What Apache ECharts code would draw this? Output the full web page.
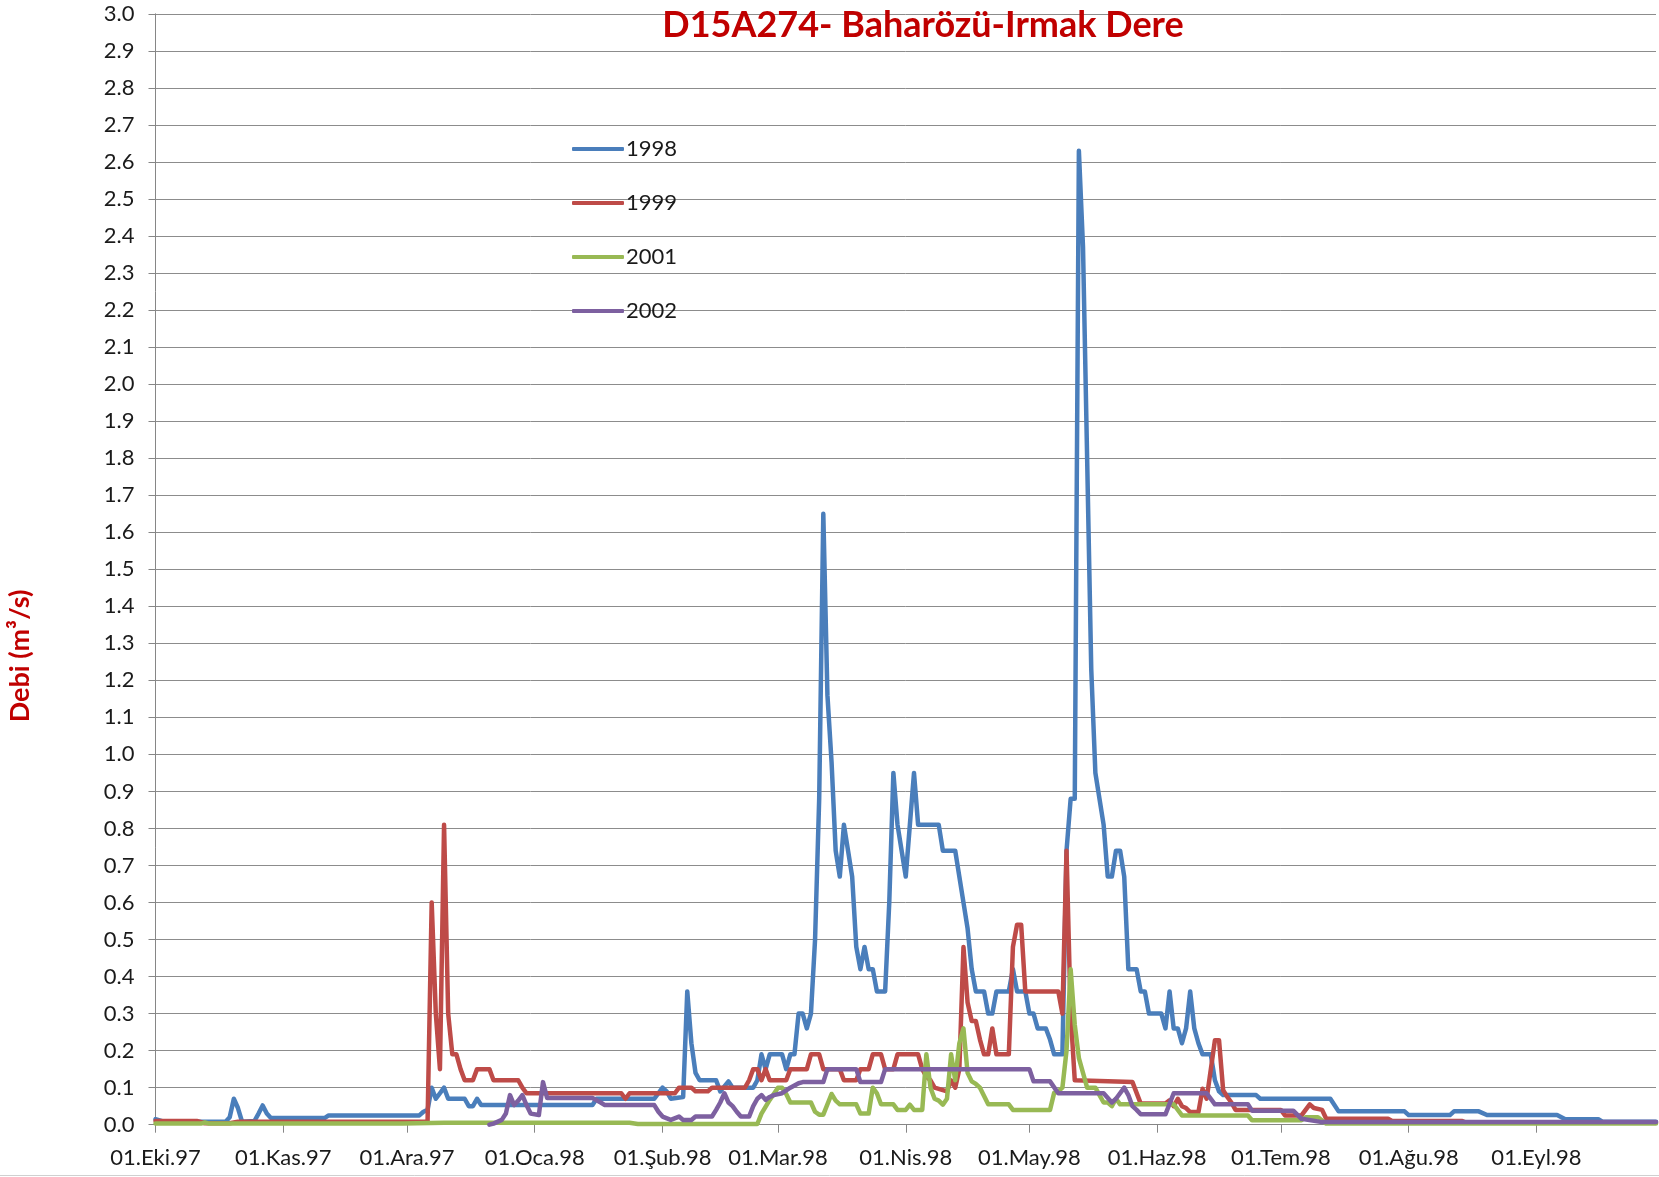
<!DOCTYPE html>
<html>
<head>
<meta charset="utf-8">
<title>D15A274- Baharözü-Irmak Dere</title>
<script src="https://cdn.jsdelivr.net/npm/echarts@6.0.0/dist/echarts.min.js"></script>
<style>
  html, body { margin: 0; padding: 0; background: #fff; }
  #chart { width: 1659px; height: 1177px; }
</style>
</head>
<body>
<div id="chart"></div>
<script>
// x = gün (0 = 01.Eki.97), y = debi (m3/s)
const monthStarts = [0, 31, 61, 92, 123, 151, 182, 212, 243, 273, 304, 335];
const monthLabels = ['01.Eki.97', '01.Kas.97', '01.Ara.97', '01.Oca.98', '01.Şub.98', '01.Mar.98',
  '01.Nis.98', '01.May.98', '01.Haz.98', '01.Tem.98', '01.Ağu.98', '01.Eyl.98'];
const seriesNames = ['1998', '1999', '2001', '2002'];

const q1998 = [
  [0, 0.015], [2, 0.008], [17, 0.008], [18, 0.02], [19, 0.07], [20, 0.045], [21, 0.008], [24, 0.01],
  [25, 0.03], [26, 0.052], [27, 0.03], [28, 0.018], [41, 0.018], [42, 0.025], [64, 0.025], [65, 0.035],
  [66, 0.04], [67, 0.1], [68, 0.07], [69, 0.085], [70, 0.1], [71, 0.07], [75, 0.07], [76, 0.05],
  [77, 0.05], [78, 0.07], [79, 0.053], [106, 0.053], [107, 0.07], [121, 0.07], [122, 0.085], [123, 0.1],
  [124, 0.09], [125, 0.07], [128, 0.075], [129, 0.36], [130, 0.22], [131, 0.14], [132, 0.12], [136, 0.12],
  [137, 0.09], [139, 0.117], [140, 0.1], [145, 0.1], [146, 0.12], [147, 0.19], [148, 0.15], [149, 0.19],
  [152, 0.19], [153, 0.15], [154, 0.19], [155, 0.19], [156, 0.3], [157, 0.3], [158, 0.26], [159, 0.3],
  [160, 0.5], [161, 0.88], [162, 1.65], [163, 1.16], [164, 0.98], [165, 0.74], [166, 0.67], [167, 0.81],
  [168, 0.74], [169, 0.67], [170, 0.48], [171, 0.42], [172, 0.48], [173, 0.42], [174, 0.42], [175, 0.36],
  [177, 0.36], [178, 0.6], [179, 0.95], [180, 0.81], [181, 0.74], [182, 0.67], [183, 0.81], [184, 0.95],
  [185, 0.81], [190, 0.81], [191, 0.74], [194, 0.74], [195, 0.67], [196, 0.6], [197, 0.53], [198, 0.42],
  [199, 0.36], [201, 0.36], [202, 0.3], [203, 0.3], [204, 0.36], [207, 0.36], [208, 0.42], [209, 0.36],
  [211, 0.36], [212, 0.3], [213, 0.3], [214, 0.26], [216, 0.26], [217, 0.23], [218, 0.19], [220, 0.19],
  [221, 0.74], [222, 0.88], [223, 0.88], [224, 2.63], [225, 2.37], [226, 1.8], [227, 1.23], [228, 0.95],
  [229, 0.88], [230, 0.81], [231, 0.67], [232, 0.67], [233, 0.74], [234, 0.74], [235, 0.67], [236, 0.42],
  [238, 0.42], [239, 0.36], [240, 0.36], [241, 0.3], [244, 0.3], [245, 0.26], [246, 0.36], [247, 0.26],
  [248, 0.26], [249, 0.22], [250, 0.26], [251, 0.36], [252, 0.26], [253, 0.22], [254, 0.19], [256, 0.19],
  [257, 0.12], [258, 0.09], [259, 0.08], [267, 0.08], [268, 0.07], [285, 0.07], [287, 0.036], [303, 0.036],
  [304, 0.026], [314, 0.026], [315, 0.036], [321, 0.036], [323, 0.026], [340, 0.026], [342, 0.015],
  [350, 0.015], [351, 0.008], [364, 0.008]
];

const q1999 = [
  [0, 0.01], [10, 0.01], [12, 0.004], [18, 0.004], [20, 0.008], [66, 0.008], [67, 0.6], [68, 0.3],
  [69, 0.15], [70, 0.81], [71, 0.3], [72, 0.19], [73, 0.19], [74, 0.15], [75, 0.12], [77, 0.12],
  [78, 0.15], [81, 0.15], [82, 0.12], [88, 0.12], [89, 0.1], [90, 0.085], [113, 0.085], [114, 0.07],
  [115, 0.085], [126, 0.085], [127, 0.1], [130, 0.1], [131, 0.09], [134, 0.09], [135, 0.1], [143, 0.1],
  [144, 0.12], [145, 0.15], [146, 0.15], [147, 0.12], [148, 0.15], [149, 0.12], [153, 0.12], [154, 0.15],
  [158, 0.15], [159, 0.19], [161, 0.19], [162, 0.15], [166, 0.15], [167, 0.12], [170, 0.12], [171, 0.15],
  [173, 0.15], [174, 0.19], [176, 0.19], [177, 0.15], [179, 0.15], [180, 0.19], [185, 0.19], [186, 0.15],
  [187, 0.13], [188, 0.12], [189, 0.1], [192, 0.09], [193, 0.12], [194, 0.1], [195, 0.15], [196, 0.48],
  [197, 0.33], [198, 0.28], [199, 0.28], [200, 0.23], [201, 0.19], [202, 0.19], [203, 0.26], [204, 0.19],
  [207, 0.19], [208, 0.48], [209, 0.54], [210, 0.54], [211, 0.36], [219, 0.36], [220, 0.3], [221, 0.74],
  [222, 0.3], [223, 0.12], [237, 0.115], [239, 0.057], [245, 0.057], [246, 0.066], [247, 0.05], [248, 0.07],
  [249, 0.05], [250, 0.045], [251, 0.034], [253, 0.034], [254, 0.097], [255, 0.07], [257, 0.228],
  [258, 0.228], [259, 0.093], [260, 0.075], [261, 0.06], [262, 0.04], [273, 0.04], [274, 0.025],
  [278, 0.025], [280, 0.055], [281, 0.045], [283, 0.04], [284, 0.016], [299, 0.016], [300, 0.01],
  [317, 0.01], [318, 0.005], [364, 0.005]
];

const q2001 = [
  [0, 0.003], [11, 0.003], [12, 0.006], [13, 0.003], [60, 0.003], [70, 0.005], [115, 0.005], [117, 0.002],
  [146, 0.002], [147, 0.03], [149, 0.067], [151, 0.1], [152, 0.1], [153, 0.083], [154, 0.06], [159, 0.06],
  [160, 0.035], [161, 0.027], [162, 0.027], [164, 0.083], [165, 0.065], [166, 0.055], [170, 0.055],
  [171, 0.03], [173, 0.03], [174, 0.1], [175, 0.085], [176, 0.055], [179, 0.055], [180, 0.04], [182, 0.04],
  [183, 0.054], [184, 0.04], [186, 0.04], [187, 0.19], [188, 0.1], [189, 0.07], [190, 0.065], [191, 0.054],
  [192, 0.07], [193, 0.19], [194, 0.12], [195, 0.22], [196, 0.26], [197, 0.14], [198, 0.117], [199, 0.11],
  [200, 0.1], [202, 0.055], [207, 0.055], [208, 0.04], [217, 0.04], [218, 0.086], [219, 0.09], [220, 0.1],
  [221, 0.2], [222, 0.42], [223, 0.27], [224, 0.18], [225, 0.14], [226, 0.1], [228, 0.1], [229, 0.08],
  [230, 0.06], [231, 0.06], [232, 0.05], [233, 0.07], [234, 0.055], [247, 0.055], [249, 0.025],
  [265, 0.025], [266, 0.012], [278, 0.012], [279, 0.02], [282, 0.02], [284, 0.003], [364, 0.003]
];

const q2002 = [
  [81, 0], [82, 0.003], [84, 0.013], [85, 0.03], [86, 0.08], [87, 0.053], [88, 0.065], [89, 0.08],
  [90, 0.053], [91, 0.03], [93, 0.026], [94, 0.115], [95, 0.072], [106, 0.072], [108, 0.06], [109, 0.053],
  [121, 0.053], [122, 0.035], [123, 0.022], [125, 0.013], [127, 0.022], [128, 0.013], [130, 0.013],
  [131, 0.022], [135, 0.022], [136, 0.04], [137, 0.06], [138, 0.085], [139, 0.06], [140, 0.05], [141, 0.035],
  [142, 0.022], [144, 0.022], [145, 0.05], [146, 0.07], [147, 0.08], [148, 0.067], [149, 0.075], [150, 0.08],
  [152, 0.085], [154, 0.1], [156, 0.112], [157, 0.115], [162, 0.115], [163, 0.15], [170, 0.15], [171, 0.115],
  [176, 0.115], [177, 0.15], [212, 0.15], [213, 0.117], [217, 0.117], [219, 0.085], [230, 0.085], [232, 0.06],
  [233, 0.07], [235, 0.1], [236, 0.08], [237, 0.05], [238, 0.04], [239, 0.028], [245, 0.028], [247, 0.085],
  [255, 0.085], [257, 0.055], [265, 0.055], [266, 0.038], [276, 0.038], [278, 0.016], [283, 0.007], [364, 0.007]
];

const seriesData = [q1998, q1999, q2001, q2002];
const colors = ['#4A7EBB', '#BE4B48', '#98B954', '#7D60A0'];
const FONT = 'Lato, "Noto Sans", sans-serif';

const chart = echarts.init(document.getElementById('chart'));

const option = {
  animation: false,
  backgroundColor: '#ffffff',
  color: colors,
  title: {
    text: 'D15A274- Baharözü-Irmak Dere',
    left: 918,
    top: 2,
    textAlign: 'center',
    textStyle: { color: '#C00000', fontSize: 36, fontWeight: 'bold', fontFamily: FONT }
  },
  legend: {
    orient: 'vertical',
    left: 567,
    top: 132,
    itemWidth: 52,
    itemHeight: 4,
    itemGap: 30,
    icon: 'roundRect',
    textStyle: { fontSize: 22, lineHeight: 24, color: '#1a1a1a', fontFamily: FONT, padding: [0, 0, 0, -3] },
    data: seriesNames
  },
  grid: { left: 155.5, right: 3, top: 13.8, bottom: 52.3, containLabel: false, outerBoundsMode: 'none' },
  xAxis: {
    type: 'value',
    min: 0,
    max: 364,
    axisLine: { show: true, lineStyle: { color: '#868686', width: 1 } },
    axisTick: { show: true, customValues: monthStarts, length: 8, lineStyle: { color: '#868686' } },
    axisLabel: {
      customValues: monthStarts,
      formatter: function (v) { return monthLabels[monthStarts.indexOf(v)]; },
      margin: 22,
      fontSize: 22,
      color: '#1a1a1a',
      fontFamily: FONT
    },
    splitLine: { show: false }
  },
  yAxis: {
    type: 'value',
    min: 0,
    max: 3,
    interval: 0.1,
    axisLine: { show: true, lineStyle: { color: '#868686', width: 1 } },
    axisTick: { show: true, length: 7, lineStyle: { color: '#868686' } },
    axisLabel: {
      formatter: function (v) { return v.toFixed(1); },
      margin: 21,
      fontSize: 22,
      color: '#1a1a1a',
      fontFamily: FONT
    },
    splitLine: { show: true, lineStyle: { color: '#8c8c8c', width: 1 } }
  },
  graphic: [
    {
      type: 'text',
      x: 20,
      y: 656,
      rotation: Math.PI / 2,
      style: {
        text: 'Debi (m³/s)',
        fill: '#C00000',
        font: 'bold 27px Lato',
        align: 'center',
        verticalAlign: 'middle',
        textAlign: 'center',
        textVerticalAlign: 'middle'
      }
    },
    {
      type: 'line',
      shape: { x1: 0, y1: 1175.5, x2: 1659, y2: 1175.5 },
      style: { stroke: '#d0d0d0', lineWidth: 1 }
    }
  ],
  series: seriesNames.map(function (name, i) {
    return {
      name: name,
      type: 'line',
      data: seriesData[i],
      symbol: 'none',
      lineStyle: { width: 4.5, color: colors[i], join: 'round', cap: 'round' },
      itemStyle: { color: colors[i] }
    };
  })
};

chart.setOption(option);
</script>
</body>
</html>
